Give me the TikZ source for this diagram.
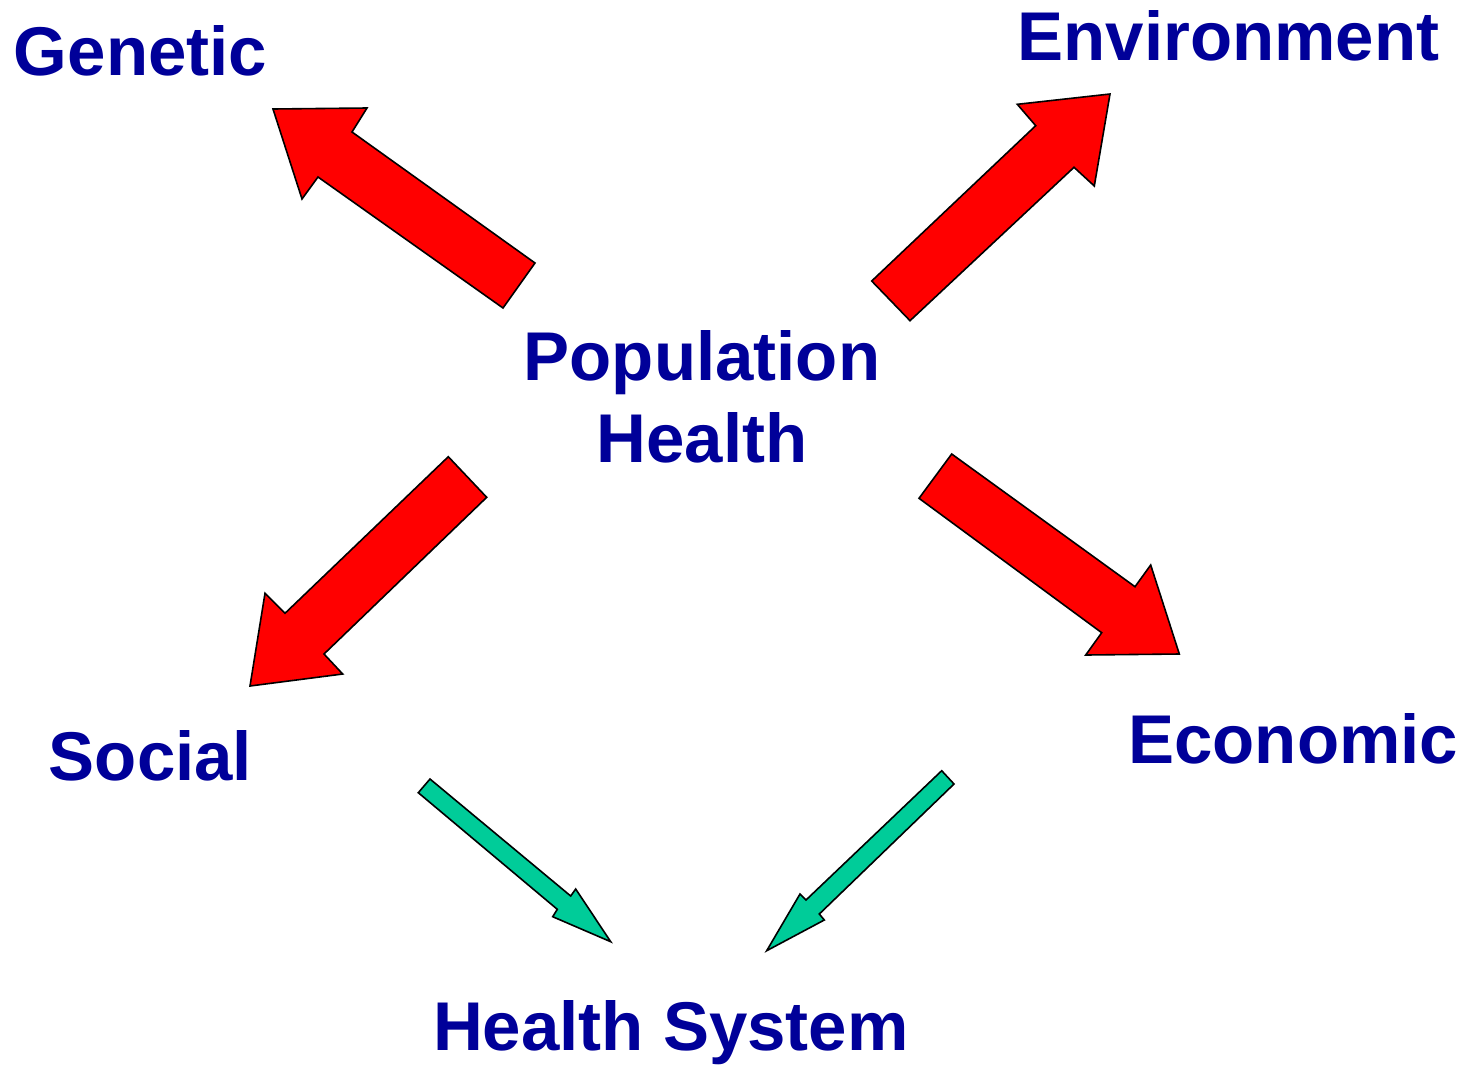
\documentclass[tikz,border=0pt]{standalone}
\usepackage{fontspec}
\setmainfont{Liberation Sans}
\definecolor{txtblue}{HTML}{000099}
\definecolor{arrred}{HTML}{FF0000}
\definecolor{arrgreen}{HTML}{00CC99}
\begin{document}
\begin{tikzpicture}[x=1pt,y=-1pt,
  lbl/.style={inner sep=0pt,anchor=base,text=txtblue,font=\fontsize{69}{83}\selectfont\bfseries},
  redarrow/.style={fill=arrred,draw=black,line width=1.6pt,line join=miter},
  greenarrow/.style={fill=arrgreen,draw=black,line width=1.6pt,line join=miter}]
\useasboundingbox (0,0) rectangle (1469,1066);
% labels
\node[lbl] (genetic) at (140.5,75) {Genetic};
\node[lbl] (environment) at (1228.5,60) {Environment};
\node[lbl] (population) at (702,380) {Population};
\node[lbl] (health) at (702,462) {Health};
\node[lbl] (social) at (150.5,780) {Social};
\node[lbl] (economic) at (1293.3,763) {Economic};
\node[lbl] (system) at (670.8,1050) {Health System};
% red block arrows
\draw[redarrow] (273,109) -- (367,108) -- (352,132) -- (535,263) -- (503,308) -- (318,177) -- (302,199) -- cycle;
\draw[redarrow] (1110,94) -- (1094.3,186) -- (1074,167.3) -- (910,320.7) -- (871.7,281) -- (1035.7,125.7) -- (1017.3,104.3) -- cycle;
\draw[redarrow] (250,686) -- (265,593.3) -- (285,613.3) -- (448.3,456.7) -- (486.7,497.3) -- (324,654) -- (342.7,674) -- cycle;
\draw[redarrow] (1179.3,654) -- (1085.7,655) -- (1101.7,632.7) -- (919,498.3) -- (951.7,454) -- (1135,586.7) -- (1150.7,565) -- cycle;
% green block arrows
\draw[greenarrow] (610.7,941.7) -- (552.7,916.7) -- (557.3,909.3) -- (418.3,792.7) -- (430,779) -- (570.7,896) -- (575.7,889) -- cycle;
\draw[greenarrow] (766.7,950.7) -- (800,894) -- (806,900) -- (941.7,770.7) -- (954,784) -- (819.3,914) -- (824.3,920) -- cycle;
\end{tikzpicture}
\end{document}
